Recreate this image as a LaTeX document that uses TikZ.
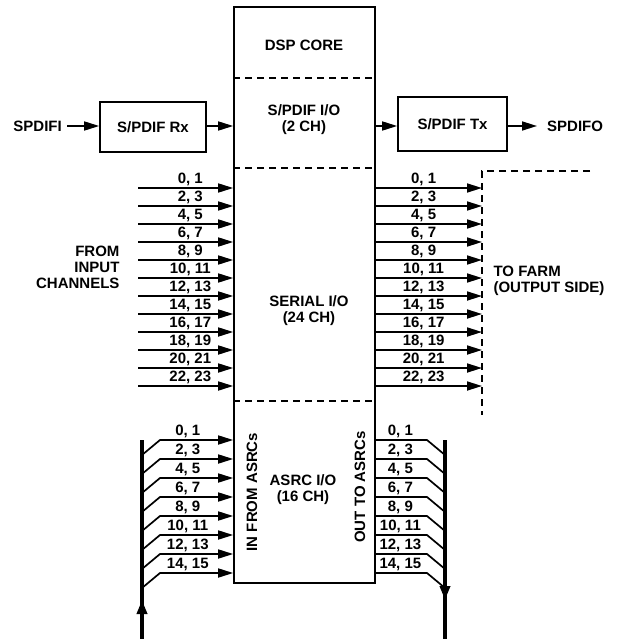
\documentclass[tikz,border=0pt]{standalone}
\usepackage{fontspec}
\setmainfont{Liberation Sans}
\usetikzlibrary{arrows.meta, positioning}

\begin{document}
\begin{tikzpicture}[
  x=1pt, y=-1pt,
  every node/.style={font=\bfseries\fontsize{15}{16}\selectfont},
  blk/.style={draw, line width=1.7pt},
  sig/.style={-{Triangle[length=15pt, width=9pt]}, line width=1.7pt},
  wire/.style={line width=1.7pt},
  bus/.style={line width=4pt},
  bustip/.style={-{Triangle[length=14pt, width=10pt]}, line width=4pt},
  sep/.style={line width=1.4pt, dash pattern=on 7pt off 5pt},
  chan/.style={above, inner sep=1.5pt}
]
\useasboundingbox (0,0) rectangle (619,639);

% core block and its sections
\node[blk, minimum width=141pt, minimum height=576pt] (core) at (304.5,295) {};
\draw[sep] ([yshift=-72pt]core.north west) -- ([yshift=-72pt]core.north east);
\draw[sep] ([yshift=-162pt]core.north west) -- ([yshift=-162pt]core.north east);
\draw[sep] ([yshift=-395pt]core.north west) -- ([yshift=-395pt]core.north east);

\node (dsp) at (304,45) {DSP CORE};
\node[align=center] (spio) at (304,120) {S/PDIF I/O\\(2 CH)};
\node[align=center] (serio) at (309,311) {SERIAL I/O\\(24 CH)};
\node[align=center] (asrcio) at (303,490) {ASRC I/O\\(16 CH)};
\node[rotate=90] (inasrc) at (252,492) {IN FROM ASRCs};
\node[rotate=90] (outasrc) at (360,487) {OUT TO ASRCs};

% S/PDIF path
\node[anchor=east, inner sep=0pt] (spdifi) at (62,126) {SPDIFI};
\node[blk, minimum width=106pt, minimum height=50pt] (rx) at (153,127) {S/PDIF Rx};
\node[blk, minimum width=109pt, minimum height=54pt] (tx) at (452.5,124) {S/PDIF Tx};
\node[anchor=west, inner sep=0pt] (spdifo) at (547,126) {SPDIFO};

\draw[sig, shorten <=5pt] (spdifi.east) -- (rx.west |- spdifi.east);
\draw[sig] (rx.east |- spdifi.east) -- (core.west |- spdifi.east);
\draw[sig] (core.east |- spdifi.east) -- (tx.west |- spdifi.east);
\draw[sig, shorten >=10pt] (tx.east |- spdifo.west) -- (spdifo.west);

% serial ports
\node[anchor=east, align=right] (fromin) at (123,267) {FROM\\INPUT\\CHANNELS};
\node[anchor=west, align=left] (farm) at (490,281) {TO FARM\\(OUTPUT SIDE)};
\coordinate (farmR) at (590,171);
\coordinate (farmC) at (482,171);
\coordinate (farmB) at (482,415);
\draw[sep, line width=1.1pt] (farmR) -- (farmC) -- (farmB);

\foreach \i [evaluate=\i as \a using int(2*\i),
             evaluate=\i as \b using int(2*\i+1),
             evaluate=\i as \y using 188+18*\i] in {0,...,11} {
  \coordinate (sin\i) at (138,\y);
  \coordinate (sout\i) at (482,\y);
  \draw[sig] (sin\i) -- (sin\i -| core.west) node[pos=0.55, chan] {\a, \b};
  \draw[sig] (sin\i -| core.east) -- (sout\i) node[pos=0.45, chan] {\a, \b};
}

% ASRC buses
\coordinate (lbT) at (142,440);
\coordinate (lbA) at (142,600);
\coordinate (lbB) at (142,639);
\coordinate (rbT) at (445,440);
\coordinate (rbA) at (445,600);
\coordinate (rbB) at (445,639);
\draw[bus] (lbT) -- (lbB);
\draw[bus] (rbT) -- (rbB);
\draw[bustip] (lbB) -- (lbA);
\draw[bustip] (rbT) -- (rbA);

\foreach \j [evaluate=\j as \a using int(2*\j),
             evaluate=\j as \b using int(2*\j+1),
             evaluate=\j as \y using 440+19*\j] in {0,...,7} {
  \coordinate (ain\j) at (142,\y+15);
  \coordinate (aink\j) at (160,\y);
  \coordinate (aoutk\j) at (427,\y);
  \coordinate (aout\j) at (445,\y+15);
  \draw[sig] (ain\j) -- (aink\j) -- (aink\j -| core.west) node[pos=0.38, chan] {\a, \b};
  \draw[wire] (aink\j -| core.east) -- node[pos=0.48, chan] {\a, \b} (aoutk\j) -- (aout\j);
}
\end{tikzpicture}
\end{document}
